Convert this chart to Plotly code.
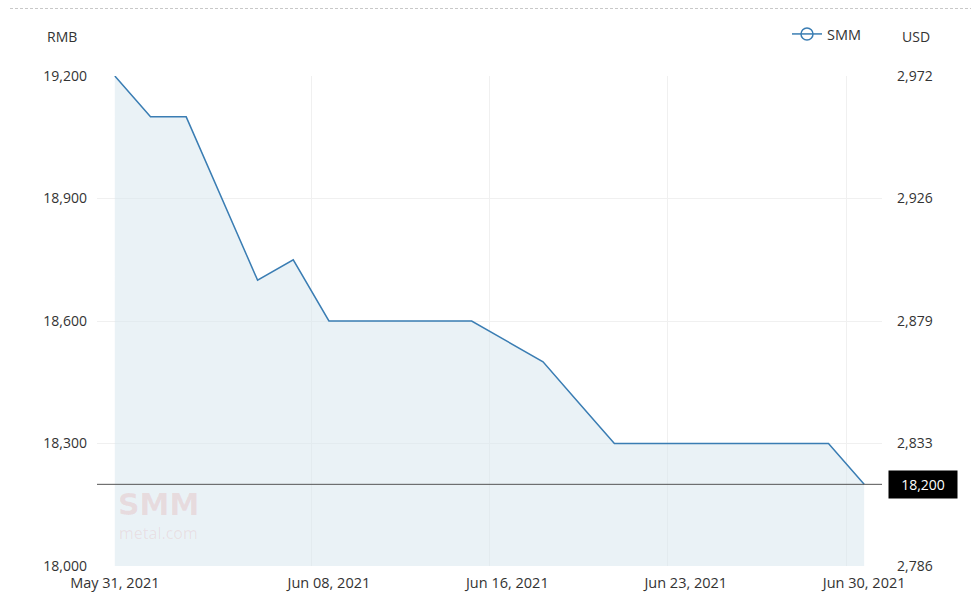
import plotly.graph_objects as go

dates = ["May 31, 2021", "Jun 01, 2021", "Jun 02, 2021", "Jun 03, 2021", "Jun 04, 2021",
         "Jun 07, 2021", "Jun 08, 2021", "Jun 09, 2021", "Jun 10, 2021", "Jun 11, 2021",
         "Jun 15, 2021", "Jun 16, 2021", "Jun 17, 2021", "Jun 18, 2021", "Jun 21, 2021",
         "Jun 22, 2021", "Jun 23, 2021", "Jun 24, 2021", "Jun 25, 2021", "Jun 28, 2021",
         "Jun 29, 2021", "Jun 30, 2021"]
prices = [19200, 19100, 19100, 18900, 18700,
          18750, 18600, 18600, 18600, 18600,
          18600, 18550, 18500, 18400, 18300,
          18300, 18300, 18300, 18300, 18300,
          18300, 18200]
tick_dates = ["May 31, 2021", "Jun 08, 2021", "Jun 16, 2021", "Jun 23, 2021", "Jun 30, 2021"]
rmb_ticks = [18000, 18300, 18600, 18900, 19200]
usd_ticks = ["2,786", "2,833", "2,879", "2,926", "2,972"]
last_price = prices[-1]

idx = list(range(len(dates)))
tick_idx = [dates.index(d) for d in tick_dates]
grid_idx = [i - 0.5 for i in tick_idx] + [len(dates) - 0.5]

LINE = "#3a7db3"
FONT = "Open Sans, Noto Sans, sans-serif"

# page offset of the figure inside the browser window (body margin)
OFF = 8
FW, FH = 979 - OFF, 594 - OFF
# plot area in screen pixels
L, R, T, B = 97, 882, 76, 566
W, H = R - L, B - T


def px(x):
    return (x - L) / W


def py(y):
    return (B - y) / H


fig = go.Figure()
fig.add_trace(go.Scatter(
    x=idx, y=prices, mode="lines", line=dict(color=LINE, width=1.5),
    fill="tozeroy", fillcolor="rgba(214,230,238,0.5)", showlegend=False, hoverinfo="skip"))
fig.add_trace(go.Scatter(
    x=[None], y=[None], mode="lines+markers", name="SMM",
    line=dict(color=LINE, width=1.5),
    marker=dict(symbol="circle-open", size=12, color=LINE, line=dict(width=1.5)),
    showlegend=True))
fig.add_trace(go.Scatter(x=[0], y=[rmb_ticks[0]], yaxis="y2", mode="markers",
                         marker=dict(opacity=0), showlegend=False, hoverinfo="skip"))

yr = [rmb_ticks[0], rmb_ticks[-1]]
fig.update_layout(
    width=FW, height=FH,
    margin=dict(l=L - OFF, r=FW - (R - OFF), t=T - OFF, b=FH - (B - OFF), autoexpand=False),
    plot_bgcolor="white", paper_bgcolor="white",
    font=dict(family=FONT, color="#333", size=14),
    xaxis=dict(range=[-0.5, len(dates) - 0.5], tickvals=tick_idx, ticktext=tick_dates,
               showgrid=False, zeroline=False, showline=False, ticks="",
               ticklabelstandoff=6,
               tickfont=dict(size=14.5, color="#333"),
               minor=dict(tickvals=grid_idx, showgrid=True, gridcolor="#f0f0f0", gridwidth=1, ticks="")),
    yaxis=dict(range=yr, tickvals=rmb_ticks, tickformat=",d", showgrid=True,
               gridcolor="#f0f0f0", zeroline=False, ticks="", ticklabelstandoff=9,
               tickfont=dict(size=14, color="#333")),
    yaxis2=dict(range=yr, tickvals=rmb_ticks, ticktext=usd_ticks, overlaying="y", side="right",
                showgrid=False, zeroline=False, ticks="", ticklabelstandoff=14,
                tickfont=dict(size=14, color="#333")),
    legend=dict(x=px(787), y=py(34), xanchor="left", yanchor="middle",
                bgcolor="rgba(0,0,0,0)", font=dict(size=14.5, color="#333"),
                itemwidth=30),
    shapes=[
        dict(type="line", xref="paper", yref="y", x0=0, x1=1, y0=last_price, y1=last_price,
             line=dict(color="#555", width=1)),
        dict(type="line", xref="paper", yref="paper", x0=px(0), x1=px(979),
             y0=py(8.5), y1=py(8.5),
             line=dict(color="#c8c8c8", width=1, dash="3px,2px")),
    ],
    annotations=[
        dict(text="RMB", xref="paper", yref="paper", x=px(45), y=py(37),
             xanchor="left", yanchor="middle", showarrow=False, font=dict(size=14, color="#333")),
        dict(text="USD", xref="paper", yref="paper", x=px(900), y=py(37),
             xanchor="left", yanchor="middle", showarrow=False, font=dict(size=14, color="#333")),
        dict(text=f"{last_price:,}", xref="paper", yref="y", x=1, y=last_price, xanchor="left",
             xshift=6, yanchor="middle", showarrow=False, bgcolor="black", width=60,
             font=dict(size=14, color="white"), borderpad=4),
        dict(text="<b>SMM</b>", xref="paper", yref="paper", x=px(116),
             y=py(504), xanchor="left", yanchor="middle", showarrow=False,
             font=dict(size=30, color="rgba(215,60,60,0.12)", family="DejaVu Sans")),
        dict(text="metal.com", xref="paper", yref="paper", x=px(117),
             y=py(533), xanchor="left", yanchor="middle", showarrow=False,
             font=dict(size=16, color="rgba(215,60,60,0.10)")),
    ],
)
fig.write_html("out.html")
